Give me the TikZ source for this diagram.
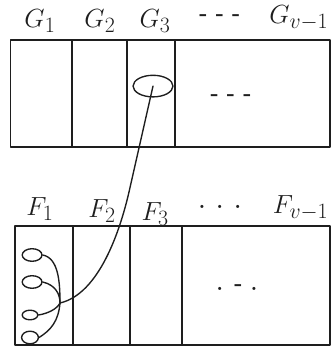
\documentclass[tikz,border=0pt]{standalone}
\usepackage{amsmath,amssymb}
\usepackage{xcolor}
\usepackage{tikz}
\usetikzlibrary{shapes.geometric}
\definecolor{ink}{HTML}{1E1E1E}
\tikzset{fig/.style={line join=round,line cap=round,ink,line width=1.3pt},
  blob/.style={draw,ellipse,line width=1.3pt,inner sep=0pt},
  gap/.style={font=\huge\bfseries}}

\begin{document}
\begin{tikzpicture}[fig,font=\Huge]
  \useasboundingbox(0,0)rectangle(11.1,11.7);
  % upper row G
  \draw(0.35,10.37)rectangle(11.0,6.8);
  \foreach \x in {2.4,4.23,5.83}\draw(\x,10.37)--(\x,6.8);
  \node(g1)at(1.33,11.0){$G_1$};\node(g2)at(3.33,11.0){$G_2$};\node(g3)at(5.17,11.0){$G_3$};
  \node[gap](gdots)at(7.33,11.1){- - -};\node[anchor=east,inner xsep=1pt](gl)at(11.0,11.1){$G_{v-1}$};
  \node[gap](gin)at(7.7,8.45){- - -};
  \node[blob,minimum width=1.33cm,minimum height=0.72cm](eg)at(5.1,8.83){};
  % lower row F
  \draw(0.5,4.17)rectangle(11.0,0.2);
  \foreach \x in {2.43,4.33,6.07}\draw(\x,4.17)--(\x,0.2);
  \node(f1)at(1.33,4.72){$F_1$};\node(f2)at(3.4,4.66){$F_2$};\node(f3)at(5.17,4.58){$F_3$};
  \node[gap](fdots)at(7.33,4.8){. . .};\node[anchor=east,inner xsep=1pt](fl)at(11.0,4.77){$F_{v-1}$};
  \node[gap](fin)at(7.9,2.1){. - .};
  \node[blob,minimum width=0.66cm,minimum height=0.42cm](e1)at(1.07,3.2){};
  \node[blob,minimum width=0.66cm,minimum height=0.42cm](e2)at(1.07,2.3){};
  \node[blob,minimum width=0.52cm,minimum height=0.32cm](e3)at(1.0,1.2){};
  \node[blob,minimum width=0.56cm,minimum height=0.42cm](e4)at(1.0,0.45){};
  \coordinate(j)at(2.0,1.6);
  \draw(e1.east)..controls(1.95,3.1)and(2.0,2.3)..(j);
  \draw(e2.east)..controls(1.85,2.2)and(2.0,1.9)..(j);
  \draw(e3.east)..controls(1.6,1.25)and(1.9,1.4)..(j);
  \draw(e4.east)..controls(1.7,0.7)and(1.95,1.0)..(j);
  \draw(j)..controls(3.3,1.9)and(4.0,4.0)..(4.3,5.3)--(eg.center);
\end{tikzpicture}
\end{document}
